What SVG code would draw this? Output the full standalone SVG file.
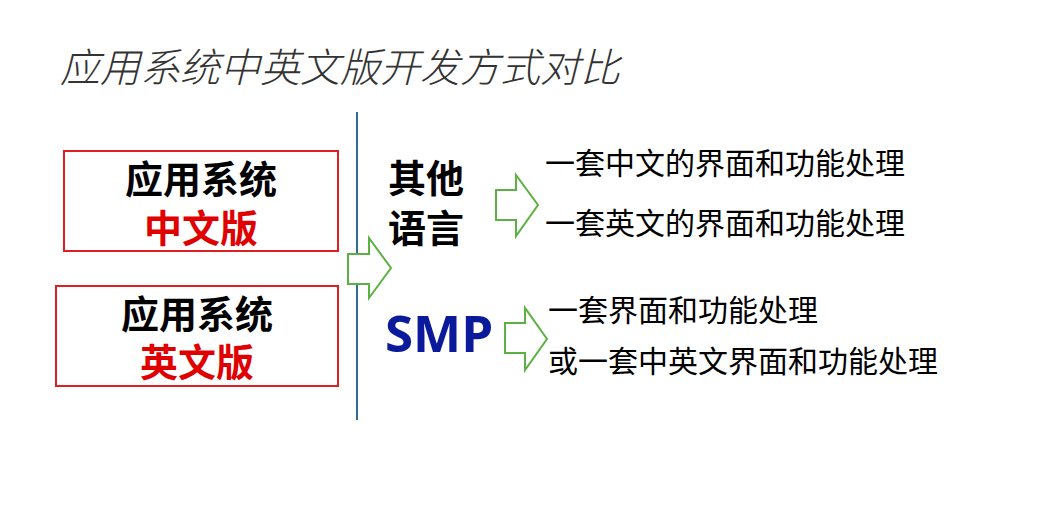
<svg xmlns="http://www.w3.org/2000/svg" width="1041" height="523" viewBox="0 0 1041 523">
<style>
.t{font-family:"Noto Sans CJK SC","Noto Sans",sans-serif}
.box{fill:#fff;stroke:#e02020;stroke-width:2}
.arr{fill:#fff;stroke:#5db043;stroke-width:2;stroke-linejoin:miter}
.b{font-weight:bold;font-size:38px;text-anchor:middle}
.n{font-size:30px;fill:#000}
</style>
<rect width="1041" height="523" fill="#fff"/>
<text class="t" x="60" y="82" font-size="40" font-style="italic" font-weight="300" fill="#333">应用系统中英文版开发方式对比</text>
<g id="cn"><rect class="box" x="64" y="151" width="274" height="100"/>
<text class="t b" x="201" y="193">应用系统</text><text class="t b" x="201" y="242" fill="#e00000">中文版</text></g>
<g id="en"><rect class="box" x="56" y="286" width="282" height="100"/>
<text class="t b" x="197" y="328">应用系统</text><text class="t b" x="197" y="376" fill="#e00000">英文版</text></g>
<g id="divider"><line x1="357" y1="112" x2="357" y2="420" stroke="#2f6f8f" stroke-width="2"/></g>
<g id="other"><text class="t" x="388" y="192" font-size="38" font-weight="bold">其他</text><text class="t" x="388" y="242" font-size="38" font-weight="bold">语言</text></g>
<g id="smp"><text x="385" y="352" font-family="'Open Sans','DejaVu Sans',sans-serif" font-size="51" font-weight="bold" fill="#0a1a9a">SMP</text></g>
<g id="r1"><text class="t n" x="545" y="174">一套中文的界面和功能处理</text><text class="t n" x="545" y="234">一套英文的界面和功能处理</text></g>
<g id="r2"><text class="t n" x="548" y="321">一套界面和功能处理</text><text class="t n" x="548" y="372">或一套中英文界面和功能处理</text></g>
<g id="connectors">
<polygon class="arr" points="348,254 369,254 369,238 391,268 369,298 369,284 348,284"/>
<polygon class="arr" points="496,190 516,190 516,175 538,205 516,236 516,220 496,220"/>
<polygon class="arr" points="505,323 525,323 525,308 547,339 525,370 525,353 505,353"/>
</g>
</svg>
